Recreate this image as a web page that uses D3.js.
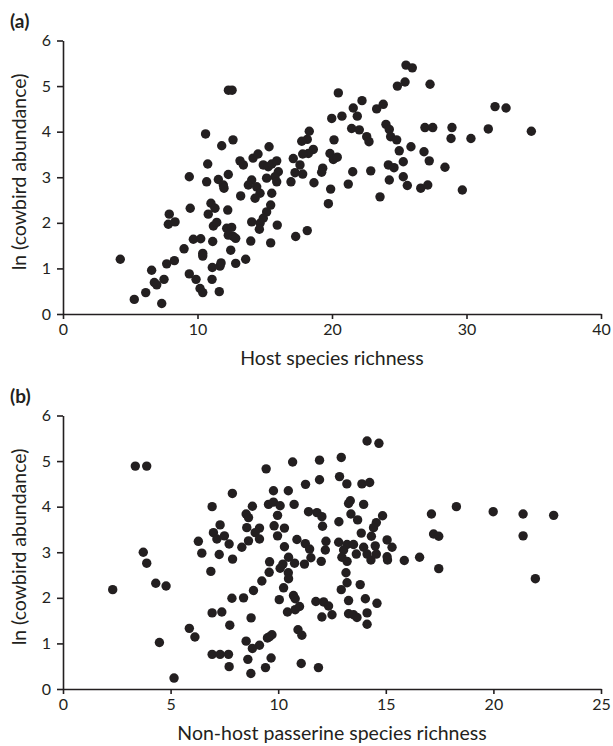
<!DOCTYPE html>
<html>
<head>
<meta charset="utf-8">
<script src="https://cdn.jsdelivr.net/npm/d3@7"></script>
<style>
  body { margin: 0; background: #fff; }
  svg { display: block; }
  .axis path, .axis line { stroke: #231f20; stroke-width: 1.6px; }
  .axis text { font-family: Lato, "Open Sans", sans-serif; font-size: 16px; fill: #231f20; }
  .title { font-family: Lato, "Open Sans", sans-serif; font-size: 19.5px; fill: #231f20; }
  .panel { font-family: Lato, "Open Sans", sans-serif; font-size: 19px; font-weight: bold; fill: #231f20; }
</style>
</head>
<body>
<div id="chart"></div>
<script>
// Panel (a): host species richness vs ln(cowbird abundance)
var hostX = [11.8, 12.64, 15.32, 17.12, 17.25, 10.76, 13.16, 13.41, 14.13, 14.5,
  14.89, 15.26, 15.52, 15.89, 16.01, 15.76, 15.89, 15.14, 9.39, 10.68,
  11.55, 11.92, 11.97, 12.29, 14.03, 13.78, 14.4, 14.65, 14.28, 13.21,
  15.52, 16.95, 7.9, 7.83, 8.33, 9.46, 11.0, 10.8, 11.3, 11.18,
  11.43, 12.25, 15.44, 15.14, 14.89, 14.65, 14.6, 14.03, 15.93, 12.17,
  12.54, 12.29, 12.66, 12.84, 9.69, 10.24, 11.13, 13.96, 15.44, 17.3,
  18.16, 9.0, 10.39, 10.39, 12.47, 4.26, 7.71, 8.28, 6.59, 11.1,
  11.67, 11.75, 12.84, 13.58, 9.39, 9.89, 6.79, 6.97, 7.51, 11.08,
  10.19, 10.39, 11.62, 6.15, 5.3, 7.34, 25.5, 25.97, 25.43, 24.86,
  27.29, 20.47, 22.23, 21.58, 21.88, 23.32, 23.81, 32.12, 32.94, 19.98,
  20.74, 24.01, 24.26, 26.91, 27.49, 28.92, 31.62, 34.82, 18.31, 18.16,
  17.75, 21.46, 22.03, 22.58, 22.75, 24.36, 24.81, 28.85, 30.33, 20.15,
  25.0, 25.87, 26.84, 27.23, 18.61, 18.24, 17.82, 19.85, 20.1, 20.39,
  17.62, 17.82, 19.31, 19.23, 21.54, 22.88, 24.19, 24.61, 25.3, 28.4,
  18.66, 19.9, 21.21, 24.26, 25.3, 25.6, 26.6, 27.12, 29.69, 19.73,
  23.57, 12.3, 12.57, 10.6];
var hostY = [3.69, 3.82, 3.67, 3.41, 3.1, 3.29, 3.36, 3.27, 3.42, 3.51,
  3.27, 3.23, 3.29, 3.36, 3.12, 3.01, 2.9, 2.98, 3.01, 2.9,
  2.95, 2.83, 2.76, 3.06, 2.94, 2.83, 2.79, 2.65, 2.54, 2.59,
  2.65, 2.9, 2.19, 1.97, 2.02, 2.32, 2.43, 2.19, 2.32, 1.93,
  2.01, 2.28, 2.39, 2.24, 2.1, 1.99, 1.86, 2.02, 1.95, 1.88,
  1.9, 1.73, 1.7, 1.66, 1.64, 1.65, 1.59, 1.6, 1.56, 1.7,
  1.83, 1.43, 1.33, 1.27, 1.4, 1.2, 1.1, 1.17, 0.96, 1.02,
  1.05, 1.12, 1.11, 1.2, 0.88, 0.76, 0.69, 0.64, 0.76, 0.76,
  0.56, 0.47, 0.49, 0.47, 0.32, 0.23, 5.46, 5.4, 5.09, 5.0,
  5.04, 4.85, 4.68, 4.52, 4.34, 4.5, 4.6, 4.55, 4.52, 4.29,
  4.34, 4.16, 4.05, 4.09, 4.09, 4.09, 4.06, 4.01, 4.01, 3.83,
  3.79, 4.07, 4.04, 3.89, 3.78, 3.89, 3.82, 3.85, 3.85, 3.82,
  3.58, 3.67, 3.56, 3.36, 3.61, 3.52, 3.51, 3.52, 3.39, 3.44,
  3.27, 3.07, 3.2, 3.11, 3.12, 3.14, 3.27, 3.21, 3.34, 3.22,
  2.88, 2.74, 2.85, 2.94, 3.01, 2.82, 2.76, 2.83, 2.72, 2.42,
  2.57, 4.91, 4.91, 3.95];

// Panel (b): non-host passerine species richness vs ln(cowbird abundance)
var nonHostX = [3.36, 3.89, 9.44, 10.67, 11.92, 7.87, 9.78, 10.47, 11.27, 11.92,
  6.93, 8.8, 9.55, 9.78, 10.09, 10.74, 8.51, 8.62, 9.97, 11.41,
  11.8, 12.03, 7.3, 8.54, 9.13, 9.81, 10.29, 12.06, 6.99, 7.15,
  7.5, 6.29, 6.45, 7.72, 7.26, 7.88, 8.62, 8.93, 9.13, 8.31,
  9.97, 10.29, 9.6, 10.48, 10.76, 10.87, 11.26, 11.46, 11.52, 11.22,
  12.22, 12.19, 12.0, 6.87, 10.22, 10.09, 10.47, 10.48, 9.58, 9.24,
  8.85, 10.25, 7.85, 8.39, 10.05, 10.71, 10.79, 11.75, 2.31, 3.73,
  3.89, 4.31, 4.79, 6.93, 7.38, 10.43, 10.79, 10.99, 8.74, 7.75,
  12.03, 5.87, 6.13, 10.92, 11.1, 9.71, 9.5, 9.6, 9.13, 8.51,
  8.8, 4.48, 6.93, 7.3, 7.69, 7.72, 8.59, 9.67, 8.73, 9.41,
  11.07, 11.87, 5.16, 14.13, 14.68, 12.93, 12.85, 13.19, 13.89, 14.25,
  13.35, 13.27, 13.97, 12.82, 13.38, 13.69, 14.85, 14.56, 14.43, 17.12,
  18.28, 19.99, 21.38, 22.8, 13.86, 14.33, 17.22, 17.46, 21.38, 21.95,
  17.46, 12.81, 13.2, 13.04, 12.96, 13.2, 13.5, 13.63, 13.97, 14.13,
  14.31, 14.51, 14.56, 15.06, 15.29, 15.06, 15.08, 15.86, 16.57, 13.15,
  13.2, 12.93, 13.81, 12.11, 12.34, 12.5, 13.27, 14.05, 14.59, 13.27,
  13.5, 13.66, 14.13, 14.13];
var nonHostY = [4.89, 4.89, 4.83, 4.98, 5.02, 4.29, 4.35, 4.35, 4.49, 4.59,
  4.0, 4.01, 4.05, 4.1, 4.02, 4.05, 3.84, 3.76, 3.81, 3.89,
  3.87, 3.78, 3.6, 3.54, 3.53, 3.58, 3.53, 3.57, 3.43, 3.29,
  3.36, 3.24, 2.98, 3.18, 2.95, 2.85, 3.25, 3.43, 3.29, 3.11,
  3.36, 3.12, 2.79, 2.89, 2.76, 3.28, 3.19, 3.07, 2.88, 2.74,
  3.24, 3.05, 2.8, 2.58, 2.74, 2.65, 2.55, 2.42, 2.56, 2.37,
  2.16, 2.22, 1.99, 2.0, 1.96, 2.05, 1.98, 1.92, 2.18, 3.0,
  2.76, 2.32, 2.26, 1.67, 1.69, 1.69, 1.74, 1.81, 1.56, 1.4,
  1.58, 1.33, 1.14, 1.3, 1.18, 1.19, 1.12, 1.15, 0.96, 1.05,
  0.89, 1.02, 0.76, 0.76, 0.76, 0.49, 0.65, 0.68, 0.34, 0.47,
  0.56, 0.47, 0.24, 5.44, 5.39, 5.08, 4.66, 4.5, 4.5, 4.53,
  4.13, 4.07, 4.05, 3.67, 3.84, 3.71, 3.8, 3.65, 3.54, 3.84,
  4.0, 3.89, 3.84, 3.81, 3.42, 3.35, 3.4, 3.35, 3.36, 2.42,
  2.64, 3.22, 3.17, 3.05, 2.89, 2.8, 3.17, 2.96, 3.11, 2.96,
  2.83, 3.14, 2.96, 3.27, 3.11, 2.9, 2.83, 2.82, 2.89, 2.55,
  2.33, 2.18, 2.29, 1.91, 1.82, 1.63, 1.94, 1.98, 1.88, 1.65,
  1.63, 1.57, 1.67, 1.42];

var hostTicks = [0, 10, 20, 30, 40],
    nonHostTicks = [0, 5, 10, 15, 20, 25],
    yTicks = [0, 1, 2, 3, 4, 5, 6];

var width = 613, height = 746,
    dotColor = '#231f20';

var svg = d3.select('#chart').append('svg')
  .attr('width', width)
  .attr('height', height);

function drawPanel(opts) {
  var x = d3.scaleLinear().domain([0, opts.xMax]).range([63, 601]),
      y = d3.scaleLinear().domain([0, 6]).range([opts.bottom, opts.bottom - 273.5]),
      g = svg.append('g');

  // dots first, axes on top
  g.selectAll('circle')
    .data(d3.zip(opts.xs, opts.ys))
  .enter().append('circle')
    .attr('cx', function(d) { return x(d[0]); })
    .attr('cy', function(d) { return y(d[1]); })
    .attr('r', 4.7)
    .style('fill', dotColor);

  g.append('g')
    .attr('class', 'axis')
    .attr('transform', 'translate(0,' + opts.bottom + ')')
    .call(d3.axisBottom(x).tickValues(opts.ticks).tickFormat(d3.format('d'))
      .tickSize(5).tickSizeOuter(0).tickPadding(4))
    .selectAll('text').attr('dy', '0.75em');

  g.append('g')
    .attr('class', 'axis')
    .attr('transform', 'translate(63,0)')
    .call(d3.axisLeft(y).tickValues(yTicks).tickFormat(d3.format('d'))
      .tickSize(6).tickSizeOuter(0).tickPadding(6));

  g.append('text')
    .attr('class', 'title')
    .attr('x', 332)
    .attr('y', opts.bottom + 51)
    .attr('text-anchor', 'middle')
    .text(opts.xTitle);

  g.append('text')
    .attr('class', 'title')
    .attr('transform', 'translate(26,' + (opts.bottom - 142) + ') rotate(-90)')
    .attr('text-anchor', 'middle')
    .text('ln (cowbird abundance)');

  g.append('text')
    .attr('class', 'panel')
    .attr('x', 10)
    .attr('y', opts.bottom - 286)
    .text(opts.label);
}

drawPanel({ xs: hostX, ys: hostY, xMax: 40, ticks: hostTicks, bottom: 314,
  xTitle: 'Host species richness', label: '(a)' });
drawPanel({ xs: nonHostX, ys: nonHostY, xMax: 25, ticks: nonHostTicks, bottom: 689,
  xTitle: 'Non-host passerine species richness', label: '(b)' });
</script>
</body>
</html>
